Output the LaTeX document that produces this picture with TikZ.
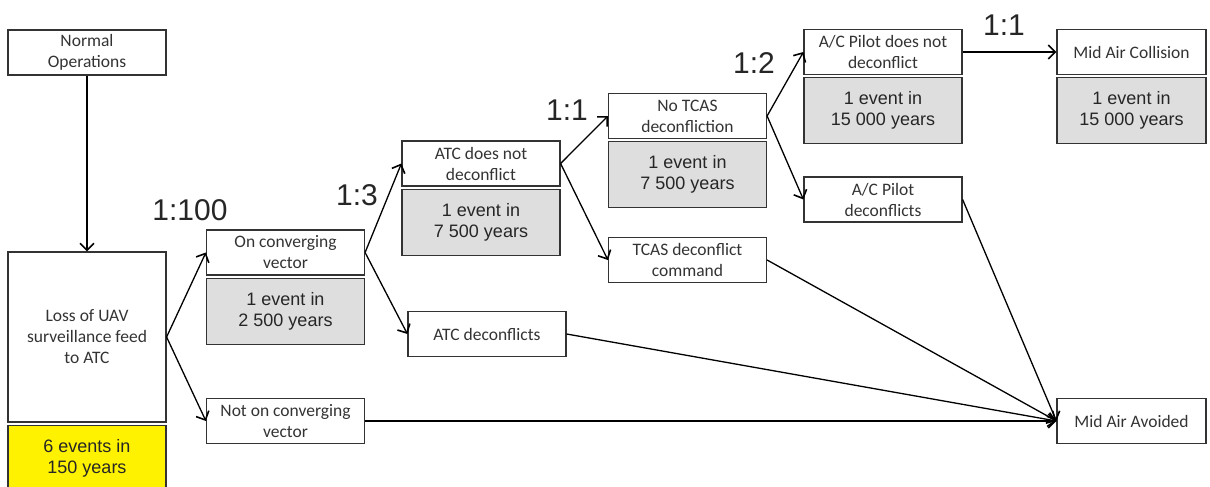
\documentclass[tikz,border=0pt]{standalone}
\usepackage{fontspec}
\setmainfont{Carlito}
\newfontfamily\arialfont{Liberation Sans}
\usepackage{tikz}
\usetikzlibrary{arrows.meta}
\usetikzlibrary{positioning, calc}
\tikzset{
    eventbox/.style = {inner sep=0pt, align=center, draw=black!80,
        line width=1.2pt, minimum width=158pt, minimum height=45pt,
        text=black!80, font=\fontsize{17.5}{21}\selectfont},
    freqbox/.style = {eventbox, fill=black!13, minimum height=66pt,
        text=black!85, font=\arialfont\fontsize{18}{21}\selectfont},
    startfreq/.style = {freqbox, fill=yellow},
    ratio/.style = {inner sep=0pt, text=black!85,
        font=\arialfont\fontsize{30}{30}\selectfont},
}

\begin{document}
\begin{tikzpicture}[x=1pt, y=-1pt, ->, >={Straight Barb[length=7pt,width=14pt,line width=1.6pt]},
    line width=1.3pt]
            \useasboundingbox (0,0) rectangle (1210,487);
            % start of the tree
            \node (normal) [eventbox] at (87,52.5) {Normal\\Operations};
            \node (loss) [eventbox, minimum height=170pt] at (87,337) {Loss of UAV\\surveillance feed\\to ATC};
            \node (lossf) [startfreq, below=2pt of loss] {6 events in\\150 years};
            % first branch
            \node (conv) [eventbox] at (285.5,252.5) {On converging\\vector};
            \node (convf) [freqbox, below=2pt of conv] {1 event in\\2 500 years};
            \node (notconv) [eventbox] at (285.5,421) {Not on converging\\vector};
            % second branch
            \node (atcnot) [eventbox] at (481,163.5) {ATC does not\\deconflict};
            \node (atcnotf) [freqbox, below=2pt of atcnot] {1 event in\\7 500 years};
            \node (atcdec) [eventbox] at (487,334) {ATC deconflicts};
            % third branch
            \node (notcas) [eventbox] at (687.5,116) {No TCAS\\deconfliction};
            \node (notcasf) [freqbox, below=2pt of notcas] {1 event in\\7 500 years};
            \node (tcascmd) [eventbox] at (687.5,260) {TCAS deconflict\\command};
            % fourth branch
            \node (pilotnot) [eventbox] at (883,52) {A/C Pilot does not\\deconflict};
            \node (pilotnotf) [freqbox, below=2pt of pilotnot] {1 event in\\15 000 years};
            \node (pilotdec) [eventbox] at (883,199.5) {A/C Pilot\\deconflicts};
            % outcomes
            \node (collision) [eventbox, minimum width=149pt] at (1131.5,52) {Mid Air Collision};
            \node (collisionf) [freqbox, minimum width=149pt, below=2pt of collision] {1 event in\\15 000 years};
            \node (avoided) [eventbox, minimum width=149pt] at (1131.5,421) {Mid Air Avoided};
            % ratios
            \node (r100) [ratio] at (190,210) {1:100};
            \node (r3) [ratio] at (357,195) {1:3};
            \node (r1a) [ratio] at (567,110) {1:1};
            \node (r2) [ratio] at (754,63) {1:2};
            \node (r1b) [ratio] at (1004,25) {1:1};
            % connectors
            \draw (normal) -- (loss);
            \draw (loss.east) -- (conv.west);
            \draw (loss.east) -- (notconv.west);
            \draw (conv.east) -- (atcnot.west);
            \draw (conv.east) -- (atcdec.west);
            \draw (atcnot.east) -- (notcas.west);
            \draw (atcnot.east) -- (tcascmd.west);
            \draw (notcas.east) -- (pilotnot.west);
            \draw (notcas.east) -- (pilotdec.west);
            \draw (pilotnot.east) -- (collision.west);
            \draw (notconv.east) -- (avoided.west);
            \draw (atcdec.east) -- (avoided.west);
            \draw (tcascmd.east) -- (avoided.west);
            \draw (pilotdec.east) -- (avoided.west);
\end{tikzpicture}
\end{document}
